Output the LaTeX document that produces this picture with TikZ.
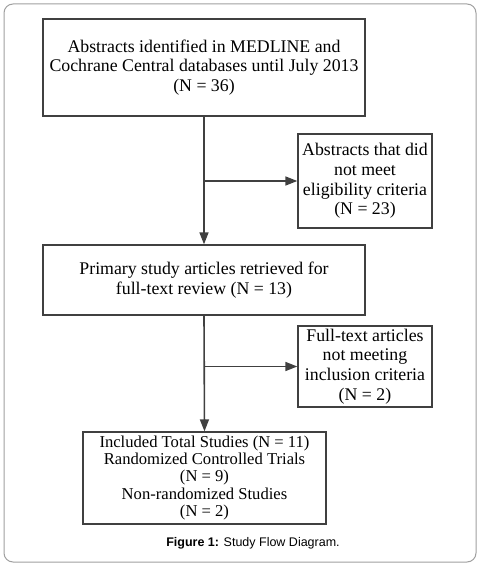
\documentclass[tikz,border=0pt]{standalone}
\usepackage{fontspec}
\setmainfont{Liberation Serif}
\newfontfamily\capfont{Liberation Sans}
\usetikzlibrary{arrows.meta}
\definecolor{ln}{HTML}{404040}
\definecolor{frm}{HTML}{A0A0A0}
\begin{document}
\begin{tikzpicture}[x=1pt,y=-1pt,
  box/.style={draw=ln,line width=1.3pt,align=center,inner sep=0pt,
    font=\fontsize{17.8}{19.8}\selectfont,text=black},
  conn/.style={draw=ln,line width=1.6pt,-{Triangle[length=12pt,width=9pt]}}]
\useasboundingbox (0,0) rectangle (481,567);
\draw[frm,line width=1pt,rounded corners=9pt] (4,4) rectangle (476,562);
\node[box,minimum width=322pt,minimum height=97pt] (b1) at (204,67.5)
  {Abstracts identified in MEDLINE and\\Cochrane Central databases until July 2013\\(N = 36)};
\node[box,minimum width=134pt,minimum height=94pt] (b2) at (365,181)
  {Abstracts that did\\not meet\\eligibility criteria\\(N = 23)};
\node[box,minimum width=322pt,minimum height=70pt] (b3) at (204,280)
  {Primary study articles retrieved for\\full-text review (N = 13)};
\node[box,minimum width=134pt,minimum height=81pt] (b4) at (365,366.5)
  {Full-text articles\\not meeting\\inclusion criteria\\(N = 2)};
\node[box,minimum width=243pt,minimum height=92pt,font=\fontsize{16.6}{17.3}\selectfont] (b5) at (204.5,478)
  {Included Total Studies (N = 11)\\Randomized Controlled Trials\\(N = 9)\\Non-randomized Studies\\(N = 2)};
\coordinate (j1) at (b1.south |- b2.west);
\coordinate (j2) at (b3.south |- b4.west);
\draw[conn] (b1.south) -- (b3.north);
\draw[conn] (j1) -- (b2.west);
\draw[conn] (b3.south) -- (b5.north);
\draw[conn] (j2) -- (b4.west);
\node[font=\capfont\fontsize{12.5}{15}\selectfont] (cap) at (253,543)
  {\textbf{Figure 1:} Study Flow Diagram.};
\end{tikzpicture}
\end{document}
